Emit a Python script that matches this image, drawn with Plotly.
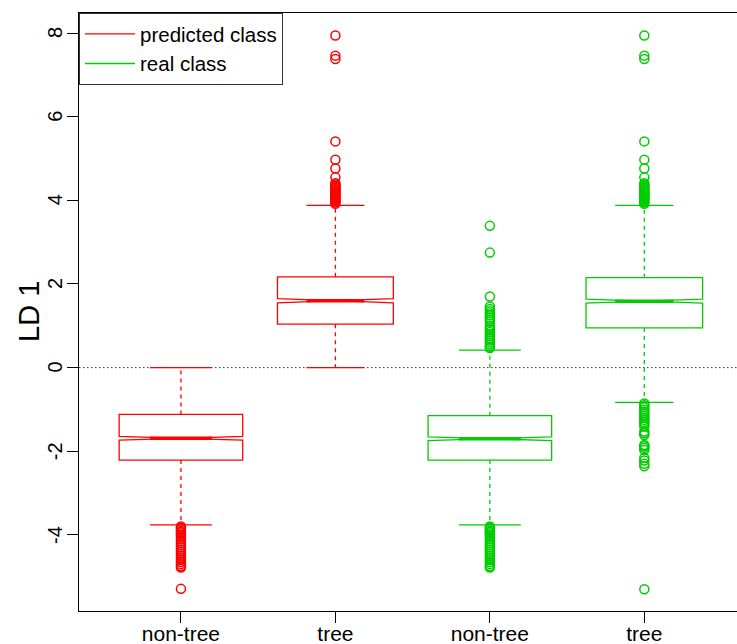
import plotly.graph_objects as go

# ---- data ----
positions = [1, 2, 3, 4]
tick_labels = ["non-tree", "tree", "non-tree", "tree"]
groups = ["predicted class", "predicted class", "real class", "real class"]
colors = {"predicted class": "#FF0000", "real class": "#00CD00"}

q1 = [-2.21, 1.04, -2.21, 0.95]
median = [-1.69, 1.60, -1.70, 1.59]
q3 = [-1.12, 2.17, -1.15, 2.15]
lower_whisker = [-3.76, 0.00, -3.76, -0.83]
upper_whisker = [0.00, 3.88, 0.42, 3.88]
notch_span = [0.045, 0.05, 0.045, 0.05]
box_width = [0.80, 0.75, 0.80, 0.755]

dense_low = [-3.80, -3.83, -3.86, -3.90, -3.93, -3.96, -4.00, -4.05, -4.10, -4.15,
             -4.20, -4.25, -4.30, -4.35, -4.40, -4.45, -4.50, -4.55, -4.60, -4.65,
             -4.70, -4.75, -4.78]
dense_high = [3.92, 3.95, 3.98, 4.00, 4.03, 4.05, 4.08, 4.10, 4.12, 4.15, 4.18,
              4.20, 4.22, 4.25, 4.27, 4.30, 4.32, 4.35, 4.38, 4.41, 4.55, 4.76,
              4.97, 5.41, 7.38, 7.46, 7.94]

outliers = [
    dense_low + [-5.29],
    dense_high,
    [0.47, 0.50, 0.55, 0.60, 0.65, 0.70, 0.75, 0.80, 0.85, 0.90, 0.95, 1.00,
     1.10, 1.15, 1.20, 1.25, 1.30, 1.35, 1.40, 1.46, 1.70, 2.75, 3.39] + dense_low,
    [-0.86, -0.90, -0.95, -1.00, -1.05, -1.10, -1.15, -1.20, -1.25, -1.30, -1.35,
     -1.41, -1.53, -1.57, -1.61, -1.85, -1.88, -1.92, -1.97, -2.16, -2.22, -2.30,
     -2.36, -5.30] + dense_high,
]

y_ticks = [-4, -2, 0, 2, 4, 6, 8]
y_ticktext = ["-4", "-2", "0", "2", "4", "6", "8"]
y_title = "LD 1"

FONT = "Liberation Sans, Arial, Helvetica, sans-serif"

fig = go.Figure()
seen = set()
for i, p in enumerate(positions):
    col = colors[groups[i]]
    w = box_width[i]
    fig.add_trace(go.Box(
        x=[p], q1=[q1[i]], median=[median[i]], q3=[q3[i]],
        lowerfence=[q1[i]], upperfence=[q3[i]],
        notched=True, notchspan=[notch_span[i]], notchwidth=0.5,
        width=w, whiskerwidth=0, boxpoints=False,
        line=dict(color=col, width=1.3), fillcolor="rgba(0,0,0,0)",
        showlegend=False, hoverinfo="skip",
    ))
    # thick median
    fig.add_trace(go.Scatter(
        x=[p - w / 4, p + w / 4], y=[median[i], median[i]], mode="lines",
        line=dict(color=col, width=3.5), showlegend=False, hoverinfo="skip"))
    # dashed whiskers
    fig.add_trace(go.Scatter(
        x=[p, p, None, p, p], y=[q3[i], upper_whisker[i], None, q1[i], lower_whisker[i]],
        mode="lines", line=dict(color=col, width=1.3, dash="4px,4px"),
        showlegend=False, hoverinfo="skip"))
    # staples (also legend entries)
    show = groups[i] not in seen
    seen.add(groups[i])
    fig.add_trace(go.Scatter(
        x=[p - w / 4, p + w / 4, None, p - w / 4, p + w / 4],
        y=[upper_whisker[i], upper_whisker[i], None, lower_whisker[i], lower_whisker[i]],
        mode="lines", line=dict(color=col, width=1.3),
        name=groups[i], legendgroup=groups[i], showlegend=show, hoverinfo="skip"))
    # outliers
    fig.add_trace(go.Scatter(
        x=[p] * len(outliers[i]), y=outliers[i], mode="markers",
        marker=dict(symbol="circle-open", size=9, color=col, line=dict(width=1.5, color=col)),
        showlegend=False, hoverinfo="skip"))

fig.add_shape(type="line", xref="paper", x0=0, x1=1, yref="y", y0=0, y1=0,
              line=dict(color="#333333", width=1, dash="1.5px,2.5px"), layer="below")

# rotated y tick labels (parallel to the axis, as in the reference)
for v, t in zip(y_ticks, y_ticktext):
    fig.add_annotation(x=0, xref="paper", y=v, yref="y", text=t, textangle=-90,
                       showarrow=False, xanchor="center", yanchor="middle",
                       xshift=-24, font=dict(size=20, family=FONT, color="black"))
fig.add_annotation(x=0, xref="paper", y=0.5, yref="paper", text=y_title, textangle=-90,
                   showarrow=False, xanchor="center", yanchor="middle",
                   xshift=-50, font=dict(size=29, family=FONT, color="black"))

fig.update_layout(
    width=737, height=644,
    margin=dict(l=79, r=0, t=13, b=33, autoexpand=False),
    paper_bgcolor="white", plot_bgcolor="white",
    boxmode="overlay",
    font=dict(family=FONT, color="black", size=20),
    xaxis=dict(range=[0.34, 4.6], tickvals=positions, ticktext=tick_labels,
               ticks="outside", ticklen=11, tickcolor="black", tickwidth=1,
               showline=True, linecolor="black", linewidth=1, mirror=True,
               showgrid=False, zeroline=False, tickfont=dict(size=21),
               ticklabelstandoff=-7, automargin=False),
    yaxis=dict(range=[-5.82, 8.48], tickvals=y_ticks, showticklabels=False,
               ticks="outside", ticklen=11, tickcolor="black", tickwidth=1,
               showline=True, linecolor="black", linewidth=1,
               showgrid=False, zeroline=False, automargin=False),
    legend=dict(x=0, y=1, xanchor="left", yanchor="top",
                bordercolor="#333333", borderwidth=1, bgcolor="white",
                font=dict(size=20.5), itemwidth=50, tracegroupgap=0),
)

fig.write_html("out.html")
